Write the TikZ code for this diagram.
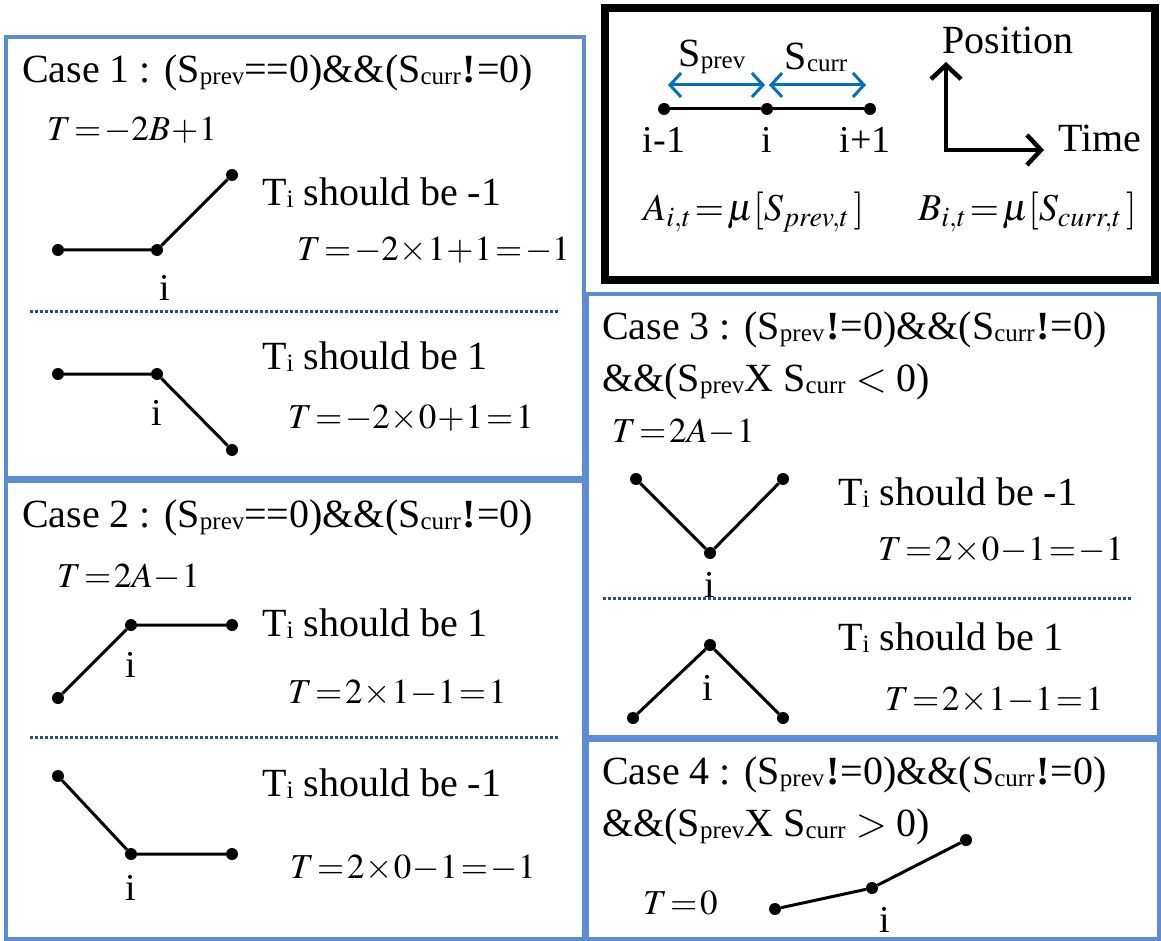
\documentclass[tikz,border=0pt]{standalone}
\usepackage{mathptmx}
\usepackage{fontspec}
\setmainfont{Liberation Serif}
\usetikzlibrary{arrows.meta}
\definecolor{caseblue}{RGB}{91,141,212}
\definecolor{sepblue}{RGB}{40,75,140}
\definecolor{arrblue}{RGB}{0,112,192}
\newcommand\low[1]{\raisebox{-0.05em}{\fontsize{25}{25}\selectfont #1}}
\newcommand\bang{\kern2pt\textbf{!}\kern1pt}
\thickmuskip=1.5mu plus 1mu
\medmuskip=0.5mu plus 1mu

\begin{document}
\begin{tikzpicture}[x=1pt,y=-1pt,
        every node/.style={font=\fontsize{40}{52}\selectfont, inner sep=0pt},
        txt/.style={anchor=west},
        eq/.style={anchor=west, font=\fontsize{35}{40}\selectfont},
        keyeq/.style={anchor=west, font=\fontsize{38}{40}\selectfont},
        lbl/.style={font=\fontsize{38}{40}\selectfont},
        casebox/.style={draw=caseblue, line width=3.5pt},
        keybox/.style={draw=black, line width=8pt},
        dot/.style={circle, fill=black, minimum size=12pt},
        seg/.style={line width=3pt},
        divider/.style={draw=sepblue, line width=3pt, dash pattern=on 3pt off 2pt},
        span/.style={arrblue, line width=3pt, {Straight Barb[length=11pt,width=24pt]}-{Straight Barb[length=11pt,width=24pt]}},
        axis/.style={line width=4.5pt, line join=miter, {Straight Barb[length=14pt,width=30pt]}-{Straight Barb[length=14pt,width=30pt]}}
    ]
    \useasboundingbox (0,0) rectangle (1161,941);

    \draw[casebox] (6,37) rectangle (584,478);
    \draw[casebox] (6,481) rectangle (584,939);
    \draw[casebox] (587,294) rectangle (1159,737);
    \draw[casebox] (587,740) rectangle (1159,939);
    \draw[keybox] (605,8) rectangle (1155,280);

    % legend
    \node[dot] (k0) at (664,109) {};
    \node[dot] (k1) at (767,109) {};
    \node[dot] (k2) at (870,109) {};
    \draw[seg] (k0) -- (k1) -- (k2);
    \node[lbl] (k0l) at (664,140) {i-1};
    \node[lbl] (k1l) at (767,140) {i};
    \node[lbl] (k2l) at (865,140) {i+1};
    \coordinate (pa) at (668,85);
    \coordinate (pb) at (765,85);
    \coordinate (ca) at (769,85);
    \coordinate (cb) at (866,85);
    \draw[span] (pa) -- (pb);
    \draw[span] (ca) -- (cb);
    \node (sprev) at (712,57) {S\low{prev}};
    \node (scurr) at (816,57) {S\low{curr}};
    \coordinate (origin) at (946,150);
    \coordinate (ytip) at (946,62);
    \coordinate (xtip) at (1044,150);
    \draw[axis] (ytip) -- (origin) -- (xtip);
    \node[txt] (pos) at (942,40) {Position};
    \node[txt] (time) at (1058,138) {Time};
    \node[keyeq] (adef) at (643,212) {$A_{i,t}=\mu[S_{prev,t}\,]$};
    \node[keyeq] (bdef) at (918,212) {$B_{i,t}=\mu[S_{curr,t}\,]$};

    % case 1
    \node[txt] (c1title) at (22,73) {Case 1 : (S\low{prev}==0)\&\&(S\low{curr}\bang=0)};
    \node[eq] (c1rule) at (47,130) {$T=-2B+1$};
    \node[dot] (c1a) at (58,250) {};
    \node[dot] (c1i) at (157,250) {};
    \node[dot] (c1b) at (232,175) {};
    \draw[seg] (c1a) -- (c1i) -- (c1b);
    \node[lbl] (c1il) at (165,288) {i};
    \node[txt] (c1say) at (262,193) {T\low{i} should be -1};
    \node[eq] (c1calc) at (297,250) {$T=-2\times1+1=-1$};
    \coordinate (d1l) at (30,311);
    \coordinate (d1r) at (558,311);
    \draw[divider] (d1l) -- (d1r);
    \node[dot] (c1c) at (58,374) {};
    \node[dot] (c1j) at (157,374) {};
    \node[dot] (c1d) at (232,450) {};
    \draw[seg] (c1c) -- (c1j) -- (c1d);
    \node[lbl] (c1jl) at (157,413) {i};
    \node[txt] (c1say2) at (262,357) {T\low{i} should be 1};
    \node[eq] (c1calc2) at (288,418) {$T=-2\times0+1=1$};

    % case 2
    \node[txt] (c2title) at (22,518) {Case 2 : (S\low{prev}==0)\&\&(S\low{curr}\bang=0)};
    \node[eq] (c2rule) at (57,577) {$T=2A-1$};
    \node[dot] (c2a) at (58,698) {};
    \node[dot] (c2i) at (131,625) {};
    \node[dot] (c2b) at (232,625) {};
    \draw[seg] (c2a) -- (c2i) -- (c2b);
    \node[lbl] (c2il) at (131,665) {i};
    \node[txt] (c2say) at (262,624) {T\low{i} should be 1};
    \node[eq] (c2calc) at (288,693) {$T=2\times1-1=1$};
    \coordinate (d2l) at (30,737);
    \coordinate (d2r) at (558,737);
    \draw[divider] (d2l) -- (d2r);
    \node[dot] (c2c) at (58,776) {};
    \node[dot] (c2j) at (131,854) {};
    \node[dot] (c2d) at (232,854) {};
    \draw[seg] (c2c) -- (c2j) -- (c2d);
    \node[lbl] (c2jl) at (131,888) {i};
    \node[txt] (c2say2) at (262,784) {T\low{i} should be -1};
    \node[eq] (c2calc2) at (290,868) {$T=2\times0-1=-1$};

    % case 3
    \node[txt, align=left] (c3title) at (602,356) {Case 3 : (S\low{prev}\bang=0)\&\&(S\low{curr}\bang=0)\\\&\&(S\low{prev}X S\low{curr} $<$ 0)};
    \node[eq] (c3rule) at (612,432) {$T=2A-1$};
    \node[dot] (c3a) at (636,479) {};
    \node[dot] (c3i) at (710,553) {};
    \node[dot] (c3b) at (783,479) {};
    \draw[seg] (c3a) -- (c3i) -- (c3b);
    \node[lbl] (c3il) at (710,585) {i};
    \node[txt] (c3say) at (838,493) {T\low{i} should be -1};
    \node[eq] (c3calc) at (878,550) {$T=2\times0-1=-1$};
    \coordinate (d3l) at (603,598);
    \coordinate (d3r) at (1132,598);
    \draw[divider] (d3l) -- (d3r);
    \node[dot] (c3c) at (633,718) {};
    \node[dot] (c3j) at (710,645) {};
    \node[dot] (c3d) at (783,718) {};
    \draw[seg] (c3c) -- (c3j) -- (c3d);
    \node[lbl] (c3jl) at (708,688) {i};
    \node[txt] (c3say2) at (838,638) {T\low{i} should be 1};
    \node[eq] (c3calc2) at (885,700) {$T=2\times1-1=1$};

    % case 4
    \node[txt, align=left] (c4title) at (602,801) {Case 4 : (S\low{prev}\bang=0)\&\&(S\low{curr}\bang=0)\\\&\&(S\low{prev}X S\low{curr} $>$ 0)};
    \node[eq] (c4rule) at (643,903) {$T=0$};
    \node[dot] (c4a) at (775,909) {};
    \node[dot] (c4i) at (872,888) {};
    \node[dot] (c4b) at (966,840) {};
    \draw[seg] (c4a) -- (c4i) -- (c4b);
    \node[lbl] (c4il) at (885,920) {i};
\end{tikzpicture}
\end{document}
